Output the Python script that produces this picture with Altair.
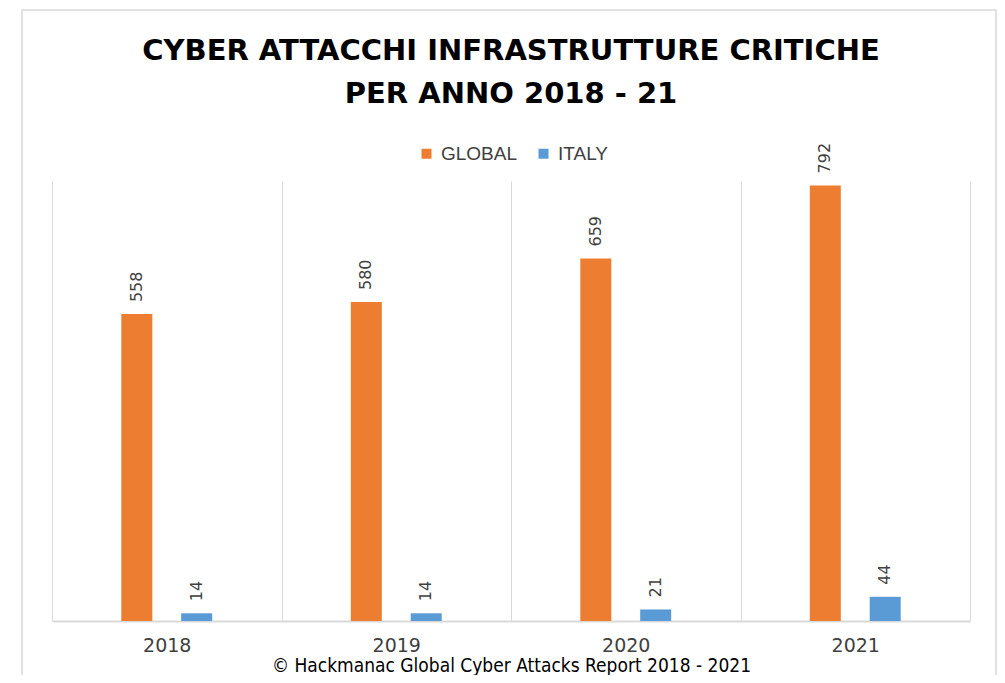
import altair as alt
import pandas as pd

years = ["2018", "2019", "2020", "2021"]
global_vals = [558, 580, 659, 792]
italy_vals = [14, 14, 21, 44]
series = ["GLOBAL", "ITALY"]
colors = ["#ED7D31", "#5B9BD5"]

rows = []
for i, y in enumerate(years):
    rows.append({"year": y, "series": "GLOBAL", "value": global_vals[i]})
    rows.append({"year": y, "series": "ITALY", "value": italy_vals[i]})
df = pd.DataFrame(rows)

FONT = "Liberation Sans Narrow, DejaVu Sans Condensed, Liberation Sans, sans-serif"

x_enc = alt.X("year:N", sort=years,
              scale=alt.Scale(paddingInner=0, paddingOuter=0),
              axis=alt.Axis(title="© Hackmanac Global Cyber Attacks Report 2018 - 2021",
                            titleFontSize=19, titleFont=FONT, titleFontWeight="normal",
                            titleColor="#000000", titlePadding=1,
                            labelAngle=0, labelFontSize=19, labelFont="DejaVu Sans",
                            labelColor="#404040", labelPadding=15,
                            ticks=False, tickBand="extent", grid=True,
                            gridColor="#D9D9D9", gridWidth=1,
                            domainColor="#D9D9D9", domainWidth=2))
xo_enc = alt.XOffset("series:N", sort=series,
                     scale=alt.Scale(paddingInner=0, paddingOuter=0.9167))
y_enc = alt.Y("value:Q", scale=alt.Scale(domain=[0, 800], nice=False, zero=True), axis=None)

base = alt.Chart(df).encode(x=x_enc, xOffset=xo_enc, y=y_enc)

bars = base.mark_bar(width=31).encode(
    color=alt.Color("series:N", sort=series,
                    scale=alt.Scale(domain=series, range=colors),
                    legend=alt.Legend(title=None, orient="none", direction="horizontal",
                                      legendX=365, legendY=-37,
                                      symbolType="square", symbolSize=100,
                                      symbolStrokeWidth=0, labelFontSize=19,
                                      labelFont="Liberation Sans", labelColor="#404040",
                                      labelOffset=5, columnPadding=16))
)

labels = base.mark_text(angle=270, align="left", baseline="middle", dx=12,
                        fontSize=16, font="DejaVu Sans", color="#404040").encode(
    text=alt.Text("value:Q")
)

frame = alt.Chart(pd.DataFrame({"a": [0]})).mark_rect(
    fill=None, stroke="#D9D9D9", strokeWidth=1.5
).encode(x=alt.value(-30), x2=alt.value(944), y=alt.value(-171), y2=alt.value(530))

chart = alt.layer(frame, bars, labels).properties(
    width=918, height=440,
    autosize=alt.AutoSizeParams(type="none"),
    padding={"left": 44, "top": 173, "right": 27, "bottom": 54},
    title=alt.TitleParams(text=["CYBER ATTACCHI INFRASTRUTTURE CRITICHE", "PER ANNO 2018 - 21"],
                          fontSize=29, fontWeight="bold", font="DejaVu Sans", color="#000000",
                          anchor="middle", offset=-100, lineHeight=43)
).configure_view(stroke=None)

chart.save("out.html", embed_options={"renderer": "svg", "actions": False})
